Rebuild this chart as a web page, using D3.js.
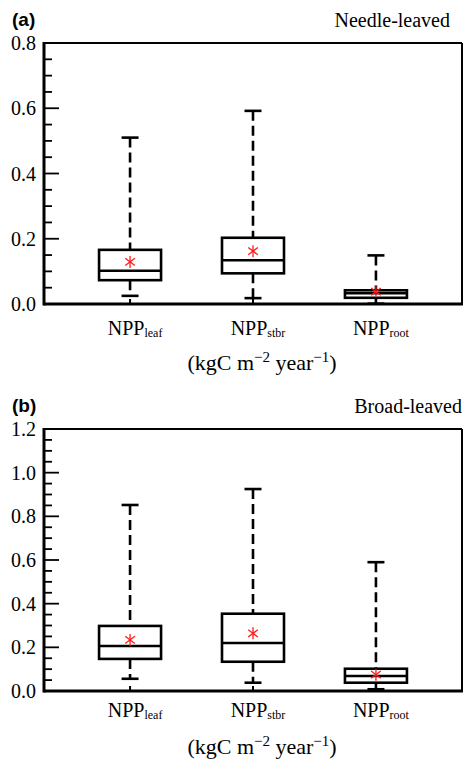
<!DOCTYPE html>
<html>
<head>
<meta charset="utf-8">
<script src="https://cdn.jsdelivr.net/npm/d3@7"></script>
<style>
  body { margin: 0; background: #fff; }
</style>
</head>
<body>
<div id="chart"></div>
<script>
// categories (subscript labels of NPP)
const categories = ['leaf', 'stbr', 'root'];

// (a) needle-leaved
const needleLow = [0.025, 0.018, 0.001];
const needleQ1 = [0.073, 0.094, 0.019];
const needleMedian = [0.102, 0.134, 0.033];
const needleQ3 = [0.166, 0.203, 0.042];
const needleHigh = [0.51, 0.592, 0.149];
const needleMean = [0.129, 0.162, 0.038];
const needleTicks = [0, 0.2, 0.4, 0.6, 0.8];

// (b) broad-leaved
const broadLow = [0.056, 0.038, 0.008];
const broadQ1 = [0.147, 0.134, 0.038];
const broadMedian = [0.206, 0.22, 0.069];
const broadQ3 = [0.298, 0.354, 0.102];
const broadHigh = [0.852, 0.925, 0.59];
const broadMean = [0.234, 0.264, 0.075];
const broadTicks = [0, 0.2, 0.4, 0.6, 0.8, 1.0, 1.2];

const serif = '"Liberation Serif", "Times New Roman", serif';
const W = 465, H = 760;
const svg = d3.select('#chart').append('svg')
    .attr('width', W).attr('height', H);

function drawPanel(opt) {
    const left = 44, right = 462;
    const x = d3.scalePoint().domain(categories).range([left, right]).padding(0.7);
    const y = d3.scaleLinear().domain([0, opt.max]).range([opt.bottom, opt.top]);
    const g = svg.append('g');

    // frame (top & right thinner)
    g.append('line').attr('x1', left).attr('x2', right).attr('y1', opt.top).attr('y2', opt.top)
        .attr('stroke', '#000').attr('stroke-width', 2);
    g.append('line').attr('x1', right).attr('x2', right).attr('y1', opt.top).attr('y2', opt.bottom)
        .attr('stroke', '#000').attr('stroke-width', 2);

    // y axis, minor ticks every 0.05, all inside
    const minor = d3.range(0, opt.max + 1e-9, 0.05);
    g.selectAll('.minor').data(minor).enter().append('line')
        .attr('x1', left).attr('x2', d => Math.abs(d / 0.2 - Math.round(d / 0.2)) < 1e-6 ? left + 15 : left + 8)
        .attr('y1', d => y(d)).attr('y2', d => y(d))
        .attr('stroke', '#000').attr('stroke-width', 1.8);
    g.selectAll('.ylab').data(opt.ticks).enter().append('text')
        .attr('x', 36).attr('y', d => y(d) + 7)
        .attr('text-anchor', 'end').attr('font-size', 20).attr('font-family', serif)
        .text(d => d.toFixed(1));

    // x ticks inside
    g.selectAll('.xt').data(categories).enter().append('line')
        .attr('x1', d => x(d)).attr('x2', d => x(d))
        .attr('y1', opt.bottom).attr('y2', opt.bottom - 5)
        .attr('stroke', '#000').attr('stroke-width', 2);

    const s = opt.stats;
    const bw = 62, cw = 17;
    categories.forEach((c, i) => {
        const cx = x(c);
        // dashed whiskers
        g.append('line').attr('x1', cx).attr('x2', cx).attr('y1', y(s.high[i])).attr('y2', y(s.q3[i]))
            .attr('stroke', '#000').attr('stroke-width', 2.6).attr('stroke-dasharray', '10,5');
        g.append('line').attr('x1', cx).attr('x2', cx).attr('y1', y(s.q1[i])).attr('y2', y(s.low[i]))
            .attr('stroke', '#000').attr('stroke-width', 2.6).attr('stroke-dasharray', '10,5');
        // caps
        [s.high[i], s.low[i]].forEach(v => {
            g.append('line').attr('x1', cx - cw / 2).attr('x2', cx + cw / 2)
                .attr('y1', y(v)).attr('y2', y(v))
                .attr('stroke', '#000').attr('stroke-width', 2.6);
        });
        // box
        g.append('rect').attr('x', cx - bw / 2).attr('width', bw)
            .attr('y', y(s.q3[i])).attr('height', y(s.q1[i]) - y(s.q3[i]))
            .attr('fill', '#fff').attr('stroke', '#000').attr('stroke-width', 2.6);
        g.append('line').attr('x1', cx - bw / 2).attr('x2', cx + bw / 2)
            .attr('y1', y(s.median[i])).attr('y2', y(s.median[i]))
            .attr('stroke', '#000').attr('stroke-width', 2.6);
        // mean star
        const my = y(s.mean[i]), r = 6;
        const star = g.append('g').attr('transform', `translate(${cx},${my})`)
            .attr('stroke', '#ff1a1a').attr('stroke-width', 1.3);
        [[0, -r, 0, r], [-r * 0.8, -r * 0.6, r * 0.8, r * 0.6], [-r * 0.8, r * 0.6, r * 0.8, -r * 0.6]]
            .forEach(l => star.append('line').attr('x1', l[0]).attr('y1', l[1]).attr('x2', l[2]).attr('y2', l[3]));
    });

    // axes lines (thicker)
    g.append('line').attr('x1', left).attr('x2', left).attr('y1', opt.top - 1).attr('y2', opt.bottom + 1.5)
        .attr('stroke', '#000').attr('stroke-width', 3);
    g.append('line').attr('x1', left).attr('x2', right + 1).attr('y1', opt.bottom).attr('y2', opt.bottom)
        .attr('stroke', '#000').attr('stroke-width', 3);

    // category labels
    categories.forEach(c => {
        const t = g.append('text').attr('x', x(c) + 5).attr('y', opt.bottom + opt.catDy)
            .attr('text-anchor', 'middle').attr('font-size', 20).attr('font-family', serif);
        t.append('tspan').text('NPP');
        t.append('tspan').attr('font-size', 12).attr('dy', 2).text(c);
    });

    // unit label
    const u = g.append('text').attr('x', 262).attr('y', opt.bottom + opt.unitDy)
        .attr('text-anchor', 'middle').attr('font-size', 22).attr('font-family', serif);
    u.append('tspan').text('(kgC m');
    u.append('tspan').attr('font-size', 15).attr('dy', -8).text('\u22122');
    u.append('tspan').attr('dy', 8).text(' year');
    u.append('tspan').attr('font-size', 15).attr('dy', -8).text('\u22121');
    u.append('tspan').attr('dy', 8).text(')');

    // panel letter and title
    g.append('text').attr('x', 12).attr('y', opt.top - 17)
        .attr('font-family', '"Liberation Sans", Arial, sans-serif')
        .attr('font-weight', 'bold').attr('font-size', 19).text(opt.letter);
    g.append('text').attr('x', opt.titleEnd).attr('y', opt.top - 16)
        .attr('text-anchor', 'end').attr('font-size', 20).attr('font-family', serif).text(opt.title);
}

drawPanel({
    top: 43, bottom: 304, max: 0.8, ticks: needleTicks, letter: '(a)',
    title: 'Needle-leaved', titleEnd: 450, catDy: 31, unitDy: 66,
    stats: { low: needleLow, q1: needleQ1, median: needleMedian, q3: needleQ3, high: needleHigh, mean: needleMean }
});
drawPanel({
    top: 429, bottom: 691, max: 1.2, ticks: broadTicks, letter: '(b)',
    title: 'Broad-leaved', titleEnd: 462, catDy: 26, unitDy: 63,
    stats: { low: broadLow, q1: broadQ1, median: broadMedian, q3: broadQ3, high: broadHigh, mean: broadMean }
});
</script>
</body>
</html>
